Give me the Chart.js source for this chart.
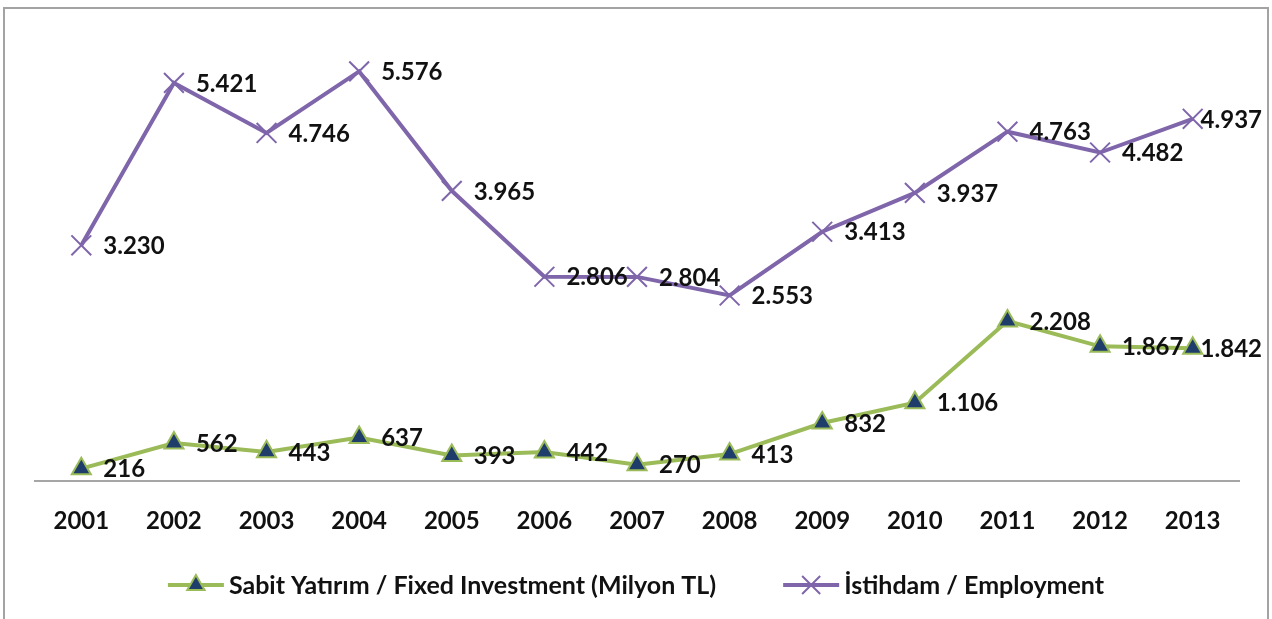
<!DOCTYPE html>
<html>
<head>
<meta charset="utf-8">
<script src="https://cdn.jsdelivr.net/npm/chart.js@4.4.1/dist/chart.umd.min.js"></script>
<style>
  html, body { margin: 0; padding: 0; background: #fff; }
  #wrap { position: relative; width: 1272px; height: 619px; }
</style>
</head>
<body>
<div id="wrap"><canvas id="chart" width="1272" height="619"></canvas></div>
<script>
const years = ['2001', '2002', '2003', '2004', '2005', '2006', '2007', '2008', '2009', '2010', '2011', '2012', '2013'];
const fixedInvestment = [216, 562, 443, 637, 393, 442, 270, 413, 832, 1106, 2208, 1867, 1842];
const employment = [3230, 5421, 4746, 5576, 3965, 2806, 2804, 2553, 3413, 3937, 4763, 4482, 4937];
const seriesNames = ['Sabit Yatırım / Fixed Investment (Milyon TL)', 'İstihdam / Employment'];

const FONT = "'Lato', sans-serif";
const GREEN = '#9bbb59';
const NAVY = '#1f3d6b';
const PURPLE = '#7f65aa';

// Turkish style thousands separator
const fmt = v => v.toLocaleString('de-DE');

// value labels to the right of each point, pushed back inside at the right edge
const valueLabels = {
    id: 'valueLabels',
    afterDatasetsDraw(chart) {
        const ctx = chart.ctx;
        ctx.save();
        ctx.font = 'bold 24px ' + FONT;
        ctx.fillStyle = '#111';
        ctx.textAlign = 'left';
        ctx.textBaseline = 'middle';
        chart.data.datasets.forEach((ds, i) => {
            chart.getDatasetMeta(i).data.forEach((pt, j) => {
                const txt = fmt(ds.data[j]);
                const w = ctx.measureText(txt).width;
                const x = Math.min(pt.x + 22, chart.width - 10 - w);
                ctx.fillText(txt, x, pt.y + 1);
            });
        });
        ctx.restore();
    }
};

// frame + legend at the bottom
const frameAndLegend = {
    id: 'frameAndLegend',
    beforeDraw(chart) {
        const ctx = chart.ctx;
        ctx.save();
        ctx.strokeStyle = '#a3a3a3';
        ctx.lineWidth = 2;
        ctx.strokeRect(4, 8, 1264, 630);
        ctx.restore();
    },
    afterDraw(chart) {
        const ctx = chart.ctx;
        ctx.save();
        ctx.font = 'bold 25px ' + FONT;
        ctx.textBaseline = 'middle';
        const lineW = 56, gapText = 5, gapItem = 67;
        const w0 = ctx.measureText(seriesNames[0]).width;
        const w1 = ctx.measureText(seriesNames[1]).width;
        const total = lineW + gapText + w0 + gapItem + lineW + gapText + w1;
        let x = (chart.width - total) / 2;
        const y = 585;
        chart.data.datasets.forEach((ds, i) => {
            const cx = x + lineW / 2;
            ctx.strokeStyle = ds.borderColor;
            ctx.lineWidth = 4;
            ctx.beginPath();
            ctx.moveTo(x, y);
            ctx.lineTo(x + lineW, y);
            ctx.stroke();
            if (i === 0) {
                const r = 10;
                ctx.fillStyle = NAVY;
                ctx.strokeStyle = GREEN;
                ctx.lineWidth = 2;
                ctx.beginPath();
                ctx.moveTo(cx, y - r);
                ctx.lineTo(cx + r * 0.866, y + r / 2);
                ctx.lineTo(cx - r * 0.866, y + r / 2);
                ctx.closePath();
                ctx.fill();
                ctx.stroke();
            } else {
                const d = 9;
                ctx.strokeStyle = PURPLE;
                ctx.lineWidth = 2;
                ctx.beginPath();
                ctx.moveTo(cx - d, y - d);
                ctx.lineTo(cx + d, y + d);
                ctx.moveTo(cx + d, y - d);
                ctx.lineTo(cx - d, y + d);
                ctx.stroke();
            }
            ctx.fillStyle = '#111';
            ctx.textAlign = 'left';
            ctx.fillText(seriesNames[i], x + lineW + gapText, y + 1);
            x += lineW + gapText + (i === 0 ? w0 : w1) + gapItem;
        });
        ctx.restore();
    }
};

new Chart(document.querySelector('#chart').getContext('2d'), {
    type: 'line',
    data: {
        labels: years,
        datasets: [
            {
                label: seriesNames[0],
                data: fixedInvestment,
                borderColor: GREEN,
                borderWidth: 4,
                pointStyle: 'triangle',
                pointRadius: 11,
                pointBackgroundColor: NAVY,
                pointBorderColor: GREEN,
                pointBorderWidth: 2
            },
            {
                label: seriesNames[1],
                data: employment,
                borderColor: PURPLE,
                borderWidth: 4,
                pointStyle: 'crossRot',
                pointRadius: 14,
                pointBorderColor: PURPLE,
                pointBorderWidth: 2
            }
        ]
    },
    options: {
        responsive: false,
        animation: false,
        layout: { padding: { top: 40, left: 35, right: 33, bottom: 58 } },
        plugins: {
            legend: { display: false },
            tooltip: { enabled: false }
        },
        scales: {
            x: {
                offset: true,
                grid: { display: false, drawTicks: false },
                border: { display: true, color: '#a6a6a6', width: 2 },
                ticks: {
                    padding: 28,
                    color: '#111',
                    font: { family: FONT, size: 24, weight: 'bold', lineHeight: 1 }
                }
            },
            y: {
                display: false,
                min: 50,
                max: 6000
            }
        }
    },
    plugins: [valueLabels, frameAndLegend]
});
</script>
</body>
</html>
